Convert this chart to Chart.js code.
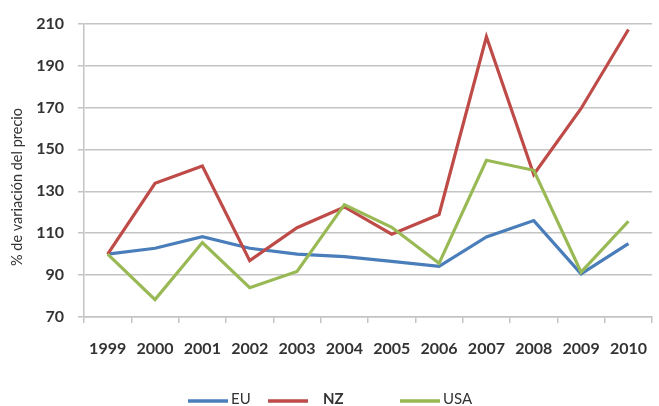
<!DOCTYPE html>
<html>
<head>
<meta charset="utf-8">
<script src="https://cdn.jsdelivr.net/npm/chart.js@4"></script>
<style>
  html, body { margin: 0; padding: 0; background: #fff; overflow: hidden; }
  #wrap { width: 659px; height: 406px; overflow: hidden; position: relative; }
  canvas { display: block; }
</style>
</head>
<body>
<div id="wrap"><canvas id="c" width="663" height="406" style="width:663px;height:406px"></canvas></div>
<script>
// Price variation (%) by year, base 1999 = 100
const years = ['1999', '2000', '2001', '2002', '2003', '2004', '2005', '2006', '2007', '2008', '2009', '2010'];
const euValues  = [100, 102.8, 108.3, 102.8, 100, 98.8, 96.5, 94.2, 108.2, 116, 90.6, 105];
const nzValues  = [100, 133.8, 142, 96.9, 112.6, 122.5, 109.5, 118.9, 203.7, 138, 169.5, 207.2];
const usaValues = [100, 78.3, 105.5, 84, 91.7, 123.6, 112.8, 95.6, 144.8, 140, 91.4, 115.7];
const seriesNames = ['EU', 'NZ', 'USA'];
const yAxisTitle = '% de variación del precio';

const COLORS = { EU: '#4A7EBB', NZ: '#BE4B48', USA: '#98B954' };
const GRID = '#c4c4c4';
const TEXT = '#333333';

// Y-axis title drawn vertically at the left edge
const axisTitlePlugin = {
  id: 'axisTitle',
  afterDraw(chart) {
    const ctx = chart.ctx;
    ctx.save();
    ctx.translate(17, 187);
    ctx.rotate(-Math.PI / 2);
    ctx.fillStyle = TEXT;
    ctx.font = '14.5px Lato';
    ctx.textAlign = 'center';
    ctx.textBaseline = 'middle';
    ctx.fillText(yAxisTitle, 0, 0);
    ctx.restore();
  }
};

// Legend row under the axis: a line sample followed by the series name
const legendRowPlugin = {
  id: 'legendRow',
  afterDraw(chart) {
    const ctx = chart.ctx;
    const slots = [
      { x: 188, textX: 231, bold: false },
      { x: 268, textX: 323, bold: true },
      { x: 400, textX: 443, bold: false }
    ];
    ctx.save();
    chart.data.datasets.forEach((ds, i) => {
      const s = slots[i];
      ctx.strokeStyle = ds.borderColor;
      ctx.lineWidth = 3.5;
      ctx.beginPath();
      ctx.moveTo(s.x, 401);
      ctx.lineTo(s.x + 40, 401);
      ctx.stroke();
      ctx.fillStyle = TEXT;
      ctx.font = (s.bold ? 'bold ' : '') + '15px Lato';
      ctx.textAlign = 'left';
      ctx.textBaseline = 'middle';
      ctx.fillText(ds.label, s.textX, 399);
    });
    ctx.restore();
  }
};

const values = [euValues, nzValues, usaValues];
const drawOrder = [2, 1, 0];

new Chart(document.getElementById('c'), {
  type: 'line',
  data: {
    labels: years,
    datasets: seriesNames.map((name, i) => ({
      label: name,
      data: values[i],
      borderColor: COLORS[name],
      backgroundColor: COLORS[name],
      borderWidth: 3.2,
      pointRadius: 0,
      tension: 0,
      fill: false,
      order: drawOrder[i]
    }))
  },
  options: {
    responsive: false,
    animation: false,
    layout: { padding: { top: 20, right: 0, bottom: 0, left: 0 } },
    plugins: {
      legend: { display: false },
      tooltip: { enabled: false }
    },
    scales: {
      x: {
        type: 'category',
        offset: true,
        grid: {
          offset: true,
          drawOnChartArea: false,
          drawTicks: true,
          tickLength: 6,
          color: GRID,
          lineWidth: 1.5
        },
        border: { color: GRID, width: 1.5 },
        ticks: {
          color: TEXT,
          font: { family: 'Lato', size: 16, weight: 'bold' },
          padding: 16,
          maxRotation: 0,
          autoSkip: false
        },
        afterFit(scale) { scale.height = 89; }
      },
      y: {
        min: 70,
        max: 210,
        ticks: {
          stepSize: 20,
          color: TEXT,
          font: { family: 'Lato', size: 16, weight: 'bold' },
          padding: 14
        },
        grid: {
          color: GRID,
          lineWidth: 1.5,
          tickLength: 6
        },
        border: { color: GRID, width: 1.5 },
        afterFit(scale) { scale.width = 84; }
      }
    }
  },
  plugins: [axisTitlePlugin, legendRowPlugin]
});
</script>
</body>
</html>
